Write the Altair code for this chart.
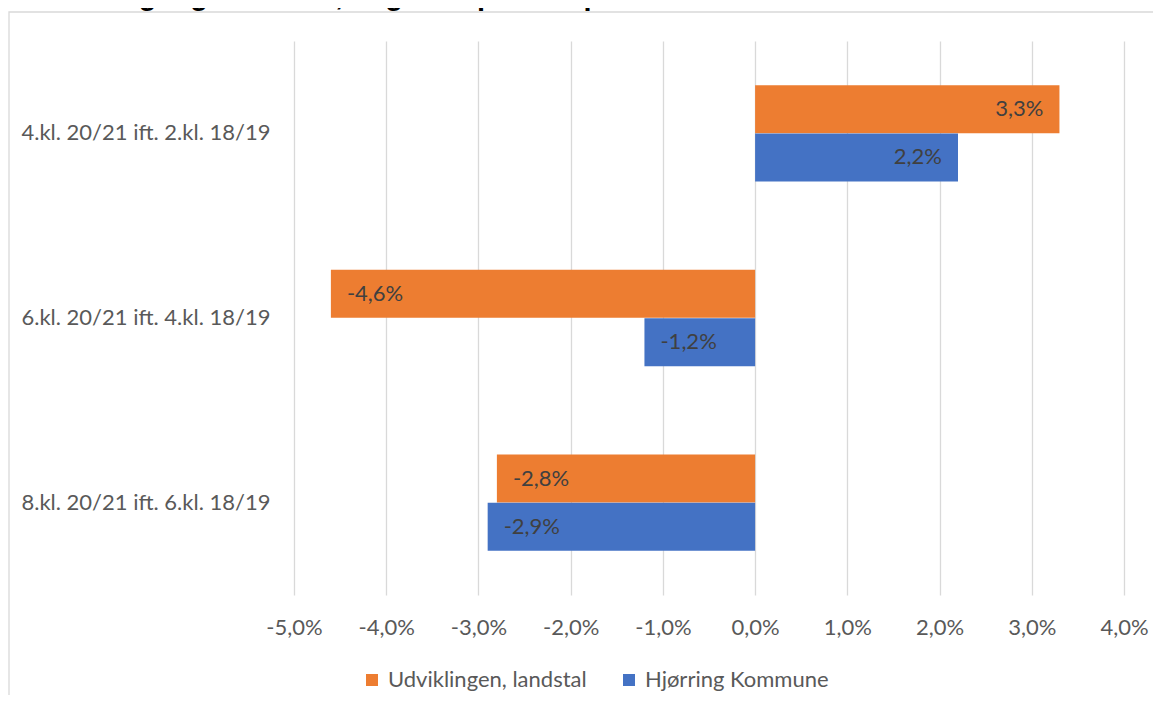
import altair as alt
import pandas as pd

categories = ["4.kl. 20/21 ift. 2.kl. 18/19",
              "6.kl. 20/21 ift. 4.kl. 18/19",
              "8.kl. 20/21 ift. 6.kl. 18/19"]
series = ["Udviklingen, landstal", "Hjørring Kommune"]
landstal = [3.3, -4.6, -2.8]
hjoerring = [2.2, -1.2, -2.9]
x_ticks = [-5, -4, -3, -2, -1, 0, 1, 2, 3, 4]
title_text = "Samme årgang over 2 år, angivet i procentpoint"

rows = []
for c, a, b in zip(categories, landstal, hjoerring):
    rows.append({"cat": c, "series": series[0], "value": a})
    rows.append({"cat": c, "series": series[1], "value": b})
df = pd.DataFrame(rows)

FONT = "Lato"
FS = 22
ORANGE = "#ED7D31"
BLUE = "#4472C4"
PCT = "(datum.value < 0 ? '-' : '') + replace(format(abs(datum.value), '.1f'), '.', ',') + '%'"

y_enc = alt.Y("cat:N", sort=categories, title=None,
              scale=alt.Scale(paddingInner=0.477, paddingOuter=0.2385),
              axis=alt.Axis(domain=False, ticks=False, grid=False,
                            labelFont=FONT, labelFontSize=FS, labelColor="#595959",
                            labelPadding=24, labelLimit=400))
yoff = alt.YOffset("series:N", sort=series)
x_scale = alt.Scale(domain=[-5, 4], nice=False, zero=False)

base = alt.Chart(df)

bars = base.mark_bar(size=48).encode(
    x=alt.X("value:Q", scale=x_scale, title=None,
            axis=alt.Axis(values=x_ticks, domain=False, ticks=False,
                          grid=True, gridColor="#D9D9D9", gridWidth=1.3,
                          labelFont=FONT, labelFontSize=FS, labelColor="#595959",
                          labelPadding=22, labelFlush=False, labelOverlap=False,
                          labelExpr=PCT)),
    y=y_enc,
    yOffset=yoff,
    color=alt.Color("series:N", sort=series,
                    scale=alt.Scale(domain=series, range=[ORANGE, BLUE]),
                    legend=alt.Legend(title=None, orient="none", direction="horizontal",
                                      legendX=67, legendY=628,
                                      symbolType="square", symbolSize=144,
                                      symbolStrokeWidth=0, labelOffset=5,
                                      columnPadding=31, labelLimit=400,
                                      labelFont=FONT, labelFontSize=FS,
                                      labelColor="#595959")),
)

lab = base.transform_calculate(label=PCT)
pos_labels = lab.transform_filter("datum.value >= 0").mark_text(
    align="right", baseline="middle", dx=-16, font=FONT, fontSize=FS, color="#404040"
).encode(x=alt.X("value:Q", scale=x_scale), y=alt.Y("cat:N", sort=categories), yOffset=yoff, text="label:N")
neg_labels = lab.transform_filter("datum.value < 0").mark_text(
    align="left", baseline="middle", dx=16, font=FONT, fontSize=FS, color="#404040"
).encode(x=alt.X("value:Q", scale=x_scale), y=alt.Y("cat:N", sort=categories), yOffset=yoff, text="label:N")

frame = alt.Chart(pd.DataFrame({"k": [0]})).mark_rect(
    fill="transparent", stroke="#D9D9D9", strokeWidth=1.3
).encode(x=alt.value(-285), x2=alt.value(900), y=alt.value(-29), y2=alt.value(720))

title = alt.Chart(pd.DataFrame({"t": [title_text]})).mark_text(
    align="left", baseline="alphabetic", font="Liberation Sans", fontSize=29,
    fontWeight="bold", color="#000000"
).encode(x=alt.value(-294), y=alt.value(-36), text="t:N")

chart = alt.layer(frame, title, bars, pos_labels, neg_labels).properties(
    width=830, height=554,
    autosize=alt.AutoSizeParams(type="none"),
    padding={"left": 286, "top": 33, "right": 29, "bottom": 100},
).configure_view(stroke=None)

chart.save("out.html", embed_options={"renderer": "svg", "actions": False})
